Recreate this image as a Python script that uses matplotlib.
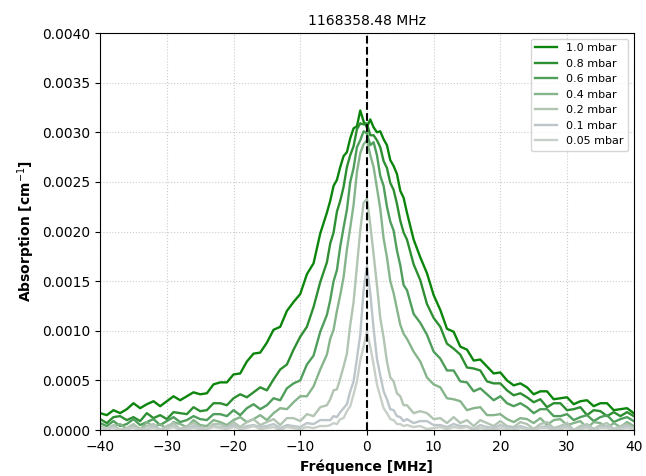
import numpy as np
import matplotlib
matplotlib.use("Agg")
import matplotlib.pyplot as plt
from matplotlib.ticker import FormatStrFormatter

# frequency grid [MHz]: 1 MHz in the wings, 0.5 MHz around the line centre
freq = list(range(-40, -5)) + [-5.5 + 0.5 * i for i in range(23)] + list(range(6, 41))

# absorption, in units of 1e-4 cm^-1
# (wing -40..-6 / centre -5.5..5.5 / wing 6..40)
p_10 = [1.7, 1.5, 2.0, 1.7, 2.1, 2.7, 2.2, 2.6, 2.9, 2.4, 2.9, 3.4, 3.0, 3.4, 3.8, 3.6, 3.7, 4.6, 4.8, 4.8, 5.6, 5.7, 6.9, 7.7, 7.8, 8.8, 10.1, 10.4, 12.0, 12.9, 13.7, 15.7, 16.8, 19.8, 21.9,
        23.1, 24.6, 25.2, 26.5, 27.6, 28.0, 29.4, 30.4, 30.6, 32.2, 31.1, 30.5, 31.3, 30.5, 30.0, 30.1, 29.3, 28.7, 27.2, 26.6, 25.8, 24.1, 23.4,
        21.9, 19.2, 17.4, 15.8, 13.6, 12.1, 10.2, 9.9, 8.4, 8.1, 7.0, 7.1, 6.4, 5.7, 5.8, 5.0, 4.5, 4.7, 4.3, 3.6, 3.9, 3.9, 3.1, 3.2, 3.3, 2.6, 2.9, 3.0, 2.4, 2.7, 2.7, 2.0, 2.1, 2.2, 1.7]
p_08 = [1.1, 0.7, 1.3, 1.4, 1.0, 1.3, 0.9, 1.7, 1.2, 1.5, 1.1, 1.8, 1.7, 1.6, 2.3, 1.9, 2.0, 2.7, 2.7, 2.5, 3.2, 3.6, 3.3, 3.8, 4.3, 4.0, 5.1, 6.1, 6.6, 8.1, 9.4, 10.4, 12.4, 14.9, 16.9,
        18.8, 19.9, 22.0, 23.1, 24.5, 26.5, 27.7, 28.6, 30.3, 30.9, 30.8, 30.9, 29.7, 29.7, 29.2, 28.5, 27.1, 26.4, 24.9, 24.2, 22.8, 21.1, 19.9,
        19.2, 16.7, 15.1, 12.7, 11.3, 10.4, 8.7, 8.2, 7.6, 6.3, 6.2, 6.0, 4.9, 4.7, 4.7, 4.0, 3.5, 3.7, 3.3, 2.8, 3.1, 2.3, 2.7, 2.7, 2.0, 2.1, 2.3, 1.5, 2.0, 1.9, 1.4, 1.8, 1.4, 1.8, 1.4]
p_06 = [0.7, 0.4, 0.9, 0.4, 0.6, 1.1, 0.5, 0.8, 1.1, 0.5, 0.9, 1.3, 0.8, 1.0, 1.4, 1.1, 1.0, 1.6, 1.6, 1.4, 2.0, 1.5, 2.2, 2.6, 2.1, 2.5, 3.2, 3.0, 4.2, 4.7, 5.0, 6.6, 7.5, 9.9, 11.6,
        13.1, 15.0, 16.1, 18.5, 20.4, 22.2, 25.0, 26.4, 28.5, 29.2, 30.1, 29.9, 28.7, 29.0, 27.7, 25.6, 24.6, 22.5, 21.0, 20.1, 18.1, 16.6, 14.6,
        14.1, 11.7, 10.8, 9.6, 7.9, 7.2, 6.0, 6.0, 4.9, 4.8, 3.9, 4.2, 3.6, 3.0, 3.4, 2.7, 2.4, 2.7, 2.3, 1.7, 2.1, 2.1, 1.4, 1.4, 1.6, 1.0, 1.3, 1.5, 0.9, 1.3, 1.5, 0.8, 1.1, 1.3, 0.9]
p_04 = [0.3, 0.0, 0.4, 0.6, 0.1, 0.4, 0.0, 0.8, 0.3, 0.6, 0.1, 0.8, 0.6, 0.3, 1.0, 0.5, 0.4, 1.0, 0.8, 0.5, 1.0, 1.3, 0.8, 1.1, 1.5, 1.0, 1.7, 2.2, 2.1, 2.8, 3.4, 3.4, 4.4, 6.1, 7.6,
        9.2, 10.1, 12.0, 13.6, 15.4, 18.2, 20.4, 22.7, 26.0, 27.9, 28.8, 29.2, 27.7, 26.5, 24.4, 22.3, 19.3, 17.4, 15.0, 13.8, 12.2, 10.6, 9.7,
        9.2, 7.9, 6.9, 5.3, 4.6, 4.3, 3.2, 3.1, 2.9, 2.0, 2.2, 2.3, 1.5, 1.5, 1.6, 1.1, 0.8, 1.2, 1.1, 0.7, 1.2, 0.5, 1.0, 1.1, 0.5, 0.7, 0.9, 0.2, 0.8, 0.7, 0.2, 0.7, 0.3, 0.8, 0.4]
p_02 = [0.4, 0.1, 0.5, 0.0, 0.2, 0.6, 0.1, 0.4, 0.6, 0.0, 0.4, 0.7, 0.1, 0.4, 0.7, 0.3, 0.1, 0.6, 0.6, 0.3, 0.8, 0.3, 0.8, 1.1, 0.5, 0.8, 1.1, 0.5, 1.2, 1.2, 0.9, 1.6, 1.4, 2.3, 2.5,
        3.1, 4.0, 4.1, 5.2, 6.4, 7.7, 10.6, 12.9, 16.5, 20.1, 22.9, 23.3, 20.7, 17.7, 14.6, 11.3, 9.3, 6.9, 5.3, 4.9, 3.7, 3.4, 2.5,
        2.5, 1.7, 1.9, 1.7, 1.1, 1.2, 0.7, 1.3, 0.7, 1.0, 0.4, 1.0, 0.7, 0.4, 0.9, 0.4, 0.3, 0.8, 0.6, 0.1, 0.6, 0.8, 0.2, 0.4, 0.7, 0.0, 0.4, 0.6, 0.1, 0.5, 0.7, 0.1, 0.4, 0.6, 0.2]
p_01 = [0.2, 0.1, 0.3, 0.0, 0.1, 0.3, 0.0, 0.1, 0.4, 0.0, 0.2, 0.4, 0.1, 0.2, 0.4, 0.2, 0.1, 0.4, 0.3, 0.2, 0.5, 0.1, 0.4, 0.5, 0.3, 0.4, 0.6, 0.2, 0.5, 0.4, 0.3, 0.7, 0.6, 1.0, 1.0,
        1.0, 1.4, 1.3, 1.8, 2.2, 2.6, 3.9, 4.9, 7.2, 9.6, 14.1, 16.5, 13.8, 10.2, 7.2, 5.5, 3.9, 3.1, 2.1, 2.0, 1.4, 1.3, 0.9,
        1.1, 0.7, 0.9, 0.9, 0.5, 0.5, 0.3, 0.6, 0.4, 0.4, 0.1, 0.5, 0.3, 0.2, 0.5, 0.3, 0.2, 0.4, 0.2, 0.0, 0.3, 0.4, 0.1, 0.2, 0.4, 0.0, 0.2, 0.4, 0.1, 0.3, 0.4, 0.1, 0.2, 0.4, 0.2]
p_005 = [0.2, 0.1, 0.2, 0.0, 0.1, 0.2, 0.0, 0.1, 0.2, 0.0, 0.1, 0.3, 0.0, 0.1, 0.2, 0.1, 0.1, 0.3, 0.2, 0.1, 0.3, 0.1, 0.2, 0.4, 0.1, 0.2, 0.3, 0.0, 0.3, 0.2, 0.1, 0.3, 0.2, 0.4, 0.4,
         0.5, 0.7, 0.6, 1.1, 1.2, 1.9, 2.4, 3.6, 4.9, 7.0, 8.4, 9.9, 8.4, 6.6, 4.6, 3.4, 2.2, 1.7, 1.1, 1.0, 0.6, 0.6, 0.4,
         0.5, 0.3, 0.4, 0.1, 0.2, 0.3, 0.1, 0.3, 0.2, 0.3, 0.0, 0.2, 0.1, 0.0, 0.2, 0.1, 0.0, 0.2, 0.1, 0.0, 0.2, 0.2, 0.0, 0.1, 0.2, 0.0, 0.1, 0.2, 0.0, 0.2, 0.2, 0.0, 0.1, 0.2, 0.1]

series = [p_10, p_08, p_06, p_04, p_02, p_01, p_005]
labels = ["1.0 mbar", "0.8 mbar", "0.6 mbar", "0.4 mbar", "0.2 mbar", "0.1 mbar", "0.05 mbar"]
colors = ["#0b850b", "#2e8f32", "#4f9e5c", "#86b58b", "#b2c4b2", "#bcc5c9", "#c8cfc8"]

fig = plt.figure(figsize=(6.46, 4.76), dpi=100)
ax = fig.add_axes([0.155, 0.0966, 0.826, 0.834])

for y, lab, c in zip(series, labels, colors):
    assert len(y) == len(freq), lab
    ax.plot(freq, np.array(y) * 1e-4, color=c, lw=1.7, label=lab)

ax.axvline(0, color="k", ls="--", lw=1.5)

ax.set_xlim(-40, 40)
ax.set_ylim(0, 0.004)
ax.set_xticks(np.arange(-40, 41, 10))
ax.set_yticks(np.arange(0, 0.00401, 0.0005))
ax.yaxis.set_major_formatter(FormatStrFormatter("%.4f"))
ax.grid(True, ls=":", color="#cccccc", lw=0.8)
ax.tick_params(labelsize=10)

ax.set_title("1168358.48 MHz", fontsize=10)
ax.set_xlabel("Fréquence [MHz]", fontweight="bold", fontsize=10)
ax.set_ylabel("Absorption [cm$^{-1}$]", fontweight="bold", fontsize=10)
ax.legend(loc="upper right", fontsize=8)

fig.savefig("out.png", dpi=100)
